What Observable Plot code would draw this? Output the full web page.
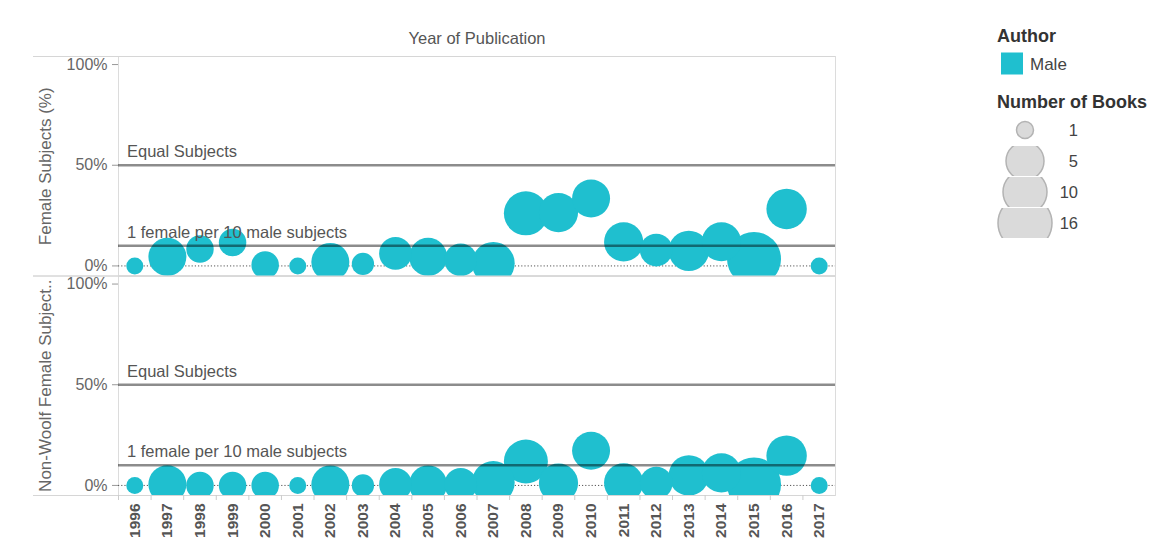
<!DOCTYPE html>
<html><head><meta charset="utf-8">
<script src="https://cdn.jsdelivr.net/npm/d3@7"></script>
<script src="https://cdn.jsdelivr.net/npm/@observablehq/plot@0.6"></script>
<style>
body{margin:0;background:#fff;font-family:"Liberation Sans",Arial,sans-serif;}
#wrap{position:relative;width:1155px;height:555px;overflow:hidden;}
#chart{position:absolute;left:0;top:0;}
#legend{position:absolute;left:980px;top:0;}
</style></head><body>
<div id="wrap"><div id="chart"></div><div id="legend"></div></div>
<script>
// ---- data ----
const years = [1996,1997,1998,1999,2000,2001,2002,2003,2004,2005,2006,2007,2008,2009,2010,2011,2012,2013,2014,2015,2016,2017];
const books = [1,5,3,3,3,1,5,2,4,5,4,9,10,6,5,6,4,7,6,16,7,1];
const femalePct = [0,4.5,8.4,11.6,0.5,0,2,1,6.2,4.5,3,1.3,26.1,26.5,33.5,11.9,7.9,7.5,12,3.5,28.3,0];
const nonWoolfPct = [0,0.6,0,0,0,0,0.5,0,0.5,0.5,0.5,1.5,11.9,1.2,17.2,1.3,1.2,5,6.2,0.5,14.8,0];
const panels = ["Female Subjects (%)", "Non-Woolf Female Subject.."];
const refValues = [50, 10];
const refLabels = ["Equal Subjects", "1 female per 10 male subjects"];
const yTicks = [0, 50, 100];
const sizeStops = [1, 5, 10, 16];
const authorLabels = ["Male"];

// ---- style ----
const teal = "#1fbfcf";
const font = '"Liberation Sans", Arial, sans-serif';
const rRange = [8.5, 19, 22, 27];

const rows = [];
years.forEach((yr, i) => {
  rows.push({year: yr, panel: panels[0], pct: femalePct[i], books: books[i]});
  rows.push({year: yr, panel: panels[1], pct: nonWoolfPct[i], books: books[i]});
});

const W = 1155, ML = 118, MR = 320;
const bw = (W - ML - MR) / years.length;

const chart = Plot.plot({
  width: W, height: 555,
  marginLeft: ML, marginRight: MR, marginTop: 56, marginBottom: 60,
  style: {fontFamily: font, background: "white", overflow: "visible"},
  x: {type: "band", domain: years, padding: 0, round: false, label: null, tickFormat: d => String(d)},
  y: {domain: [-5, 104], label: null},
  fy: {domain: panels, padding: 0, round: false, axis: null, label: null},
  r: {type: "linear", domain: sizeStops, range: rRange},
  marks: [
    Plot.frame({stroke: "#dcdcdc"}),
    Plot.ruleY([-5, 104], {stroke: "#d6d6d6", insetLeft: -85}),
    Plot.ruleY([0], {stroke: "#555", strokeDasharray: "1.2,2"}),
    Plot.dot(rows, {x: "year", y: "pct", fy: "panel", r: "books", fill: teal, clip: true}),
    Plot.ruleY(refValues, {stroke: "#000", strokeOpacity: 0.45, strokeWidth: 2.5}),
    Plot.text(refValues, {y: d => d, text: (d, i) => refLabels[i], frameAnchor: "left", textAnchor: "start", lineAnchor: "bottom", dx: 8.5, dy: -8, fontSize: 16.5, fill: "#555"}),
    Plot.axisY({ticks: yTicks, tickFormat: d => d + "%", tickSize: 6, tickPadding: 5, fontSize: 16, fill: "#666", stroke: "#999", label: null}),
    Plot.axisX({tickRotate: -90, tickSize: 0, tickPadding: 8, fontSize: 15.5, fontWeight: "bold", fill: "#555", label: null, tickFormat: d => String(d)}),
    Plot.axisX({text: null, tickSize: 5, dx: -bw / 2, stroke: "#ccc", label: null}),
    Plot.text(panels, {fy: d => d, text: d => d, frameAnchor: "left", textAnchor: "middle", rotate: -90, dx: -73, fontSize: 17, fill: "#666"}),
    Plot.text(["Year of Publication"], {fy: () => panels[0], text: d => d, frameAnchor: "top", textAnchor: "middle", lineAnchor: "bottom", dy: -13, fontSize: 16.5, fill: "#555"})
  ]
});
document.getElementById("chart").appendChild(chart);

// ---- legend ----
const rScale = d3.scaleLinear().domain(sizeStops).range(rRange);
const lsvg = d3.select("#legend").append("svg").attr("width", 175).attr("height", 250)
  .style("font-family", font);
lsvg.append("text").attr("x", 17).attr("y", 41.5).attr("font-size", 18).attr("font-weight", "bold").attr("fill", "#333").text("Author");
authorLabels.forEach((lab, i) => {
  lsvg.append("rect").attr("x", 21).attr("y", 52.5 + i * 26).attr("width", 22).attr("height", 22).attr("fill", teal);
  lsvg.append("text").attr("x", 50).attr("y", 70 + i * 26).attr("font-size", 17).attr("fill", "#444").text(lab);
});
lsvg.append("text").attr("x", 17).attr("y", 108).attr("font-size", 18).attr("font-weight", "bold").attr("fill", "#333").text("Number of Books");
sizeStops.forEach((v, i) => {
  const cy = 130 + i * 31;
  const id = "clip" + i;
  lsvg.append("clipPath").attr("id", id).append("rect").attr("x", 0).attr("y", cy - 15).attr("width", 100).attr("height", 30);
  lsvg.append("circle").attr("cx", 45).attr("cy", cy).attr("r", rScale(v))
    .attr("fill", "#dadada").attr("stroke", "#b3b3b3").attr("stroke-width", 1.5)
    .attr("clip-path", `url(#${id})`);
  lsvg.append("text").attr("x", 98).attr("y", cy + 6).attr("text-anchor", "end").attr("font-size", 16.5).attr("fill", "#444").text(v);
});
</script>
</body></html>
